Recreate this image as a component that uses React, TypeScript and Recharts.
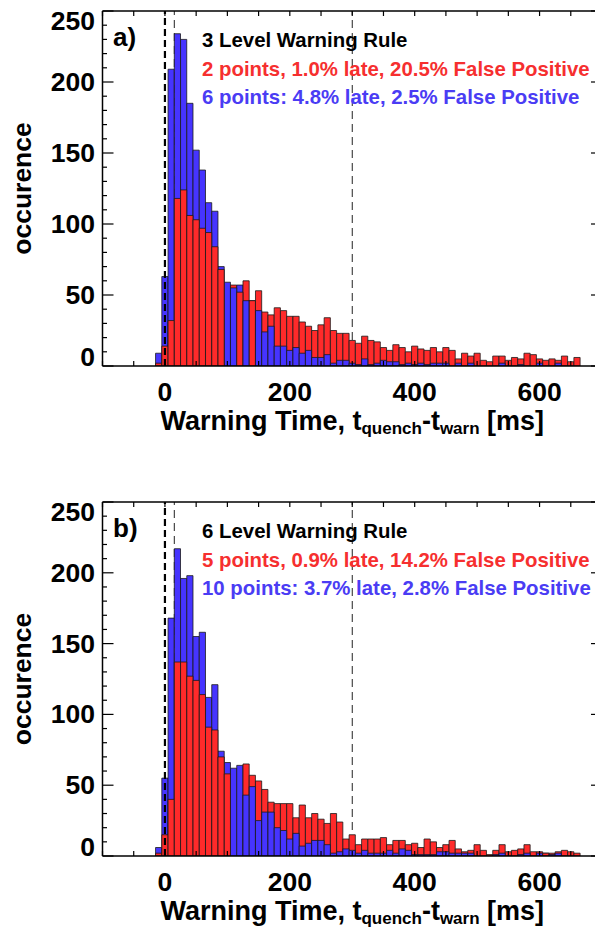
import { Bar, BarChart, Cell, ReferenceLine, XAxis, YAxis } from "recharts"

// bin centres in ms (10 ms bins)
const BINS = [
  -10, 0, 10, 20, 30, 40, 50, 60, 70, 80, 90, 100, 110, 120, 130, 140, 150, 160, 170, 180,
  190, 200, 210, 220, 230, 240, 250, 260, 270, 280, 290, 300, 310, 320, 330, 340, 350, 360, 370, 380,
  390, 400, 410, 420, 430, 440, 450, 460, 470, 480, 490, 500, 510, 520, 530, 540, 550, 560, 570, 580,
  590, 600, 610, 620, 630, 640, 650, 660,
]

// a) 3 level rule: blue = 6 points, red = 2 points
const BLUE_A = [
  9, 63, 209, 234, 230, 185, 152, 138, 115, 109, 70, 59, 55, 57, 46, 46, 39, 24, 28, 14,
  14, 11, 13, 9, 11, 6, 6, 8, 2, 4, 4, 2, 1, 5, 1, 2, 4, 3, 3, 1,
  2, 1, 2, 1, 2, 2, 2, 0, 2, 0, 2, 0, 0, 0, 0, 2, 0, 0, 1, 0,
  0, 2, 0, 0, 2, 0, 0, 0,
]
const RED_A = [
  2, 14, 32, 118, 124, 106, 103, 97, 94, 84, 68, 0, 57, 52, 60, 46, 53, 38, 36, 41,
  39, 35, 35, 31, 28, 25, 29, 34, 25, 23, 23, 18, 16, 21, 18, 17, 13, 11, 15, 13,
  10, 14, 12, 11, 13, 10, 13, 11, 5, 9, 7, 9, 4, 3, 7, 7, 4, 6, 5, 9,
  8, 5, 4, 5, 4, 7, 3, 6,
]

// b) 6 level rule: blue = 10 points, red = 5 points
const BLUE_B = [
  6, 55, 168, 217, 196, 198, 155, 158, 112, 121, 74, 66, 62, 64, 43, 49, 25, 31, 31, 20,
  18, 12, 16, 7, 9, 11, 11, 8, 2, 3, 5, 4, 2, 4, 2, 2, 2, 4, 2, 5,
  4, 1, 1, 1, 1, 3, 3, 2, 2, 2, 2, 0, 0, 0, 1, 2, 0, 0, 1, 2,
  0, 2, 2, 1, 2, 0, 0, 0,
]
const RED_B = [
  2, 15, 40, 137, 137, 127, 124, 114, 91, 89, 70, 58, 0, 0, 65, 57, 53, 47, 38, 37,
  37, 37, 27, 36, 27, 30, 26, 23, 30, 24, 12, 15, 8, 12, 12, 12, 13, 8, 11, 11,
  8, 9, 6, 12, 10, 6, 8, 11, 5, 3, 4, 8, 4, 1, 4, 8, 3, 4, 5, 8,
  3, 3, 2, 2, 3, 4, 3, 2,
]

const X_TICKS = [-100, -50, 0, 50, 100, 150, 200, 250, 300, 350, 400, 450, 500, 550, 600, 650, 700]
const X_LABELS = [0, 200, 400, 600]
const Y_TICKS = [
  0, 10, 20, 30, 40, 50, 60, 70, 80, 90, 100, 110, 120, 130, 140, 150, 160, 170, 180, 190,
  200, 210, 220, 230, 240, 250,
]
const THIN_LINES = [15, 300]

const BLUE = "#4634ff"
const RED = "#ff2a2a"
const BLUE_TEXT = "#4a3cf4"
const RED_TEXT = "#f62f2f"
const FONT = "'Liberation Sans', Arial, Helvetica, sans-serif"

const W = 605
const H = 465
const LEFT = 102.5
const RIGHT = 602

type PanelProps = {
  blue: number[]
  red: number[]
  tag: string
  rule: string
  redText: string
  blueText: string
  top: number
  plotH: number
}

function Panel({ blue, red, tag, rule, redText, blueText, top, plotH }: PanelProps) {
  const bottom = top + plotH
  const mid = (top + bottom) / 2
  // larger count drawn behind, smaller one in front
  const rows = BINS.map((x, i) => ({
    x,
    back: Math.max(blue[i], red[i]),
    front: Math.min(blue[i], red[i]),
    backColor: blue[i] >= red[i] ? BLUE : RED,
    frontColor: blue[i] >= red[i] ? RED : BLUE,
  }))
  const margin = { top, right: W - RIGHT, bottom: 0, left: 0 }

  const xTick = (p: any) => {
    const x = p.x
    const v = p.payload.value
    return (
      <g>
        <line x1={x} x2={x} y1={bottom} y2={bottom - 5} stroke="#000" strokeWidth={1.2} />
        <line x1={x} x2={x} y1={top} y2={top + 5} stroke="#000" strokeWidth={1.2} />
        {X_LABELS.includes(v) && (
          <text x={x} y={bottom + 26} textAnchor="middle" dominantBaseline="central"
            fontFamily={FONT} fontWeight="bold" fontSize={26.5} fill="#000">{v}</text>
        )}
      </g>
    )
  }

  const yTick = (p: any) => {
    const y = p.y
    const v = p.payload.value
    const major = v % 50 === 0
    const len = major ? 11 : 4.5
    let ly = y
    if (v === 250) ly = y + 10
    if (v === 0) ly = y - 9
    return (
      <g>
        <line x1={LEFT} x2={LEFT + len} y1={y} y2={y} stroke="#000" strokeWidth={1.2} />
        <line x1={RIGHT} x2={RIGHT - len} y1={y} y2={y} stroke="#000" strokeWidth={1.2} />
        {major && (
          <text x={95} y={ly} textAnchor="end" dominantBaseline="central"
            fontFamily={FONT} fontWeight="bold" fontSize={26.5} fill="#000">{v}</text>
        )}
      </g>
    )
  }

  return (
    <div style={{ position: "relative", width: W, height: H }}>
      {/* thin dashed guides sit behind the bars */}
      <div style={{ position: "absolute", left: 0, top: 0 }}>
        <BarChart width={W} height={H} data={rows} margin={margin}>
          <XAxis type="number" dataKey="x" domain={[-100, 700]} allowDataOverflow ticks={X_TICKS}
            height={H - bottom} tick={false} tickLine={false} axisLine={false} />
          <YAxis type="number" domain={[0, 250]} allowDataOverflow ticks={Y_TICKS} width={LEFT}
            tick={false} tickLine={false} axisLine={false} />
          {THIN_LINES.map((v) => (
            <ReferenceLine key={v} x={v} stroke="#222" strokeWidth={1} strokeDasharray="8 5" />
          ))}
        </BarChart>
      </div>
      <div style={{ position: "absolute", left: 0, top: 0 }}>
        <BarChart width={W} height={H} data={rows} margin={margin} barSize={6.2} barGap={-6.2}>
          <XAxis type="number" dataKey="x" domain={[-100, 700]} allowDataOverflow ticks={X_TICKS} interval={0}
            height={H - bottom} tickLine={false} axisLine={{ stroke: "#000", strokeWidth: 1.5 }} tick={xTick} />
          <YAxis type="number" domain={[0, 250]} allowDataOverflow ticks={Y_TICKS} interval={0} width={LEFT}
            tickLine={false} axisLine={{ stroke: "#000", strokeWidth: 1.5 }} tick={yTick} />
          <ReferenceLine y={250} stroke="#000" strokeWidth={1.5} />
          <ReferenceLine x={700} stroke="#000" strokeWidth={1.5} />
          <Bar dataKey="back" isAnimationActive={false} stroke="#1a1a1a" strokeWidth={0.8}>
            {rows.map((d, i) => <Cell key={`b-${i}`} fill={d.backColor} />)}
          </Bar>
          <Bar dataKey="front" isAnimationActive={false} stroke="#1a1a1a" strokeWidth={0.8}>
            {rows.map((d, i) => <Cell key={`f-${i}`} fill={d.frontColor} />)}
          </Bar>
          <ReferenceLine x={0} stroke="#000" strokeWidth={2.2} strokeDasharray="7 4" />

          <text x={113} y={top + 26} dominantBaseline="central" fontFamily={FONT} fontWeight="bold" fontSize={26}>{tag}</text>
          <text x={202} y={top + 29} dominantBaseline="central" fontFamily={FONT} fontWeight="bold" fontSize={20.4} fill="#000">{rule}</text>
          <text x={202} y={top + 58} dominantBaseline="central" fontFamily={FONT} fontWeight="bold" fontSize={20.4} fill={RED_TEXT}>{redText}</text>
          <text x={202} y={top + 86} dominantBaseline="central" fontFamily={FONT} fontWeight="bold" fontSize={20.4} fill={BLUE_TEXT}>{blueText}</text>

          <text x={22} y={mid} transform={`rotate(-90 22 ${mid})`} textAnchor="middle" dominantBaseline="central"
            fontFamily={FONT} fontWeight="bold" fontSize={26.5}>occurence</text>
          <text x={(LEFT + RIGHT) / 2} y={bottom + 55} textAnchor="middle" dominantBaseline="central"
            fontFamily={FONT} fontWeight="bold" fontSize={27}>
            Warning Time, t<tspan fontSize={17} dy={7}>quench</tspan><tspan dy={-7}>-t</tspan>
            <tspan fontSize={17} dy={7}>warn</tspan><tspan dy={-7}> [ms]</tspan>
          </text>
        </BarChart>
      </div>
    </div>
  )
}

export default function App() {
  return (
    <div style={{ position: "absolute", left: 0, top: 0, width: 595, height: 930, overflow: "hidden", background: "#fff" }}>
      <Panel blue={BLUE_A} red={RED_A} tag="a)" rule="3 Level Warning Rule"
        redText="2 points, 1.0% late, 20.5% False Positive" blueText="6 points: 4.8% late, 2.5% False Positive"
        top={11} plotH={355} />
      <Panel blue={BLUE_B} red={RED_B} tag="b)" rule="6 Level Warning Rule"
        redText="5 points, 0.9% late, 14.2% False Positive" blueText="10 points: 3.7% late, 2.8% False Positive"
        top={37} plotH={354} />
    </div>
  )
}
